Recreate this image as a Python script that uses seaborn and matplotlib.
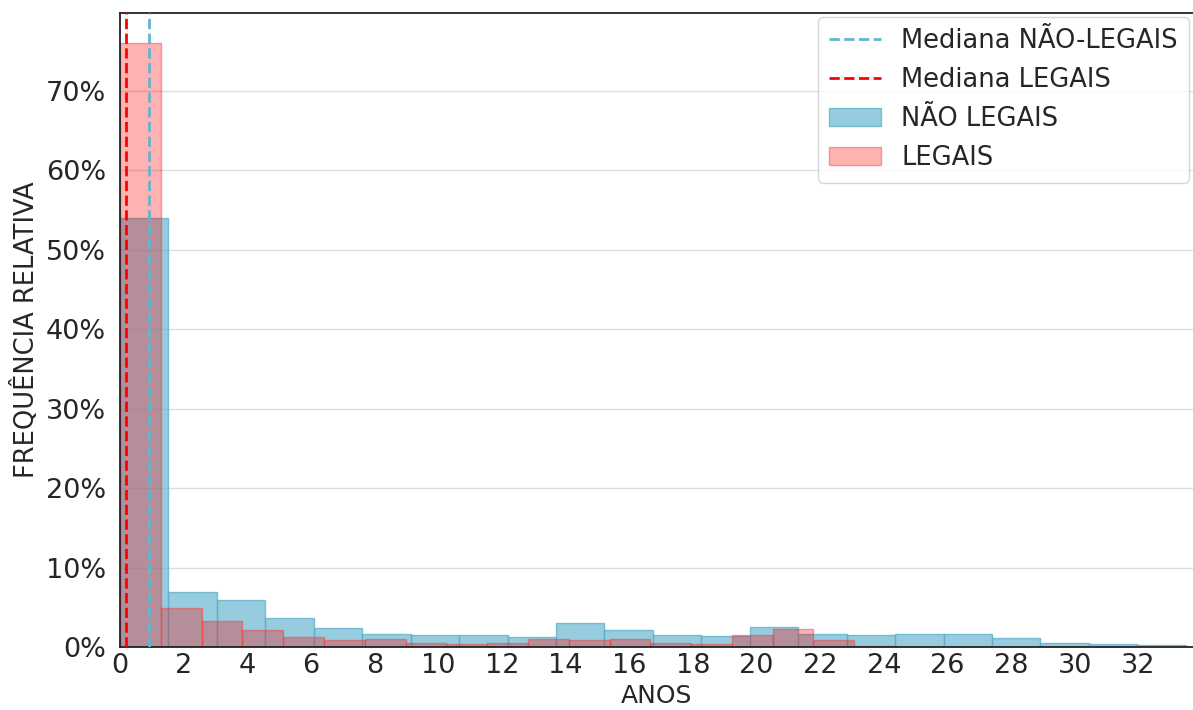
import numpy as np
import pandas as pd
import matplotlib
matplotlib.use("Agg")
import matplotlib.pyplot as plt
from matplotlib.ticker import PercentFormatter, MultipleLocator
import seaborn as sns

# Relative frequency per bin (fraction of each group), by years
nao_legais_width = 1.522
nao_legais_freq = [0.540, 0.0686, 0.0586, 0.0360, 0.0243, 0.0167, 0.0146, 0.0146,
                   0.0129, 0.0302, 0.0214, 0.0146, 0.0133, 0.0246, 0.0163, 0.0146,
                   0.0165, 0.0167, 0.0117, 0.0054, 0.0038, 0.0020]

legais_width = 1.2816
legais_freq = [0.760, 0.0490, 0.0327, 0.0214, 0.0129, 0.0088, 0.0100, 0.0050,
               0.0038, 0.0050, 0.0096, 0.0084, 0.0096, 0.0050, 0.0033, 0.0150,
               0.0230, 0.0088, 0.0013]

mediana_nao_legais = 0.90
mediana_legais = 0.19

sns.set_style("whitegrid")
plt.rcParams["font.family"] = ["DejaVu Sans"]

fig = plt.figure(figsize=(11.93, 7.10), dpi=100)
ax = fig.add_axes([120 / 1193, 63 / 710, 1073 / 1193, 634 / 710])

edges_nl = [i * nao_legais_width for i in range(len(nao_legais_freq) + 1)]
edges_l = [i * legais_width for i in range(len(legais_freq) + 1)]
df_nl = pd.DataFrame({"anos": [(a + b) / 2 for a, b in zip(edges_nl[:-1], edges_nl[1:])],
                      "freq": nao_legais_freq})
df_l = pd.DataFrame({"anos": [(a + b) / 2 for a, b in zip(edges_l[:-1], edges_l[1:])],
                     "freq": legais_freq})

blue = "#64B5CD"
ax.axvline(mediana_nao_legais, color=blue, ls="--", lw=2, zorder=4,
           label="Mediana NÃO-LEGAIS")
ax.axvline(mediana_legais, color="red", ls="--", lw=2, zorder=4,
           label="Mediana LEGAIS")

sns.histplot(data=df_nl, x="anos", weights="freq", bins=edges_nl, ax=ax,
             color=blue, alpha=0.68, edgecolor=(0.35, 0.68, 0.80, 0.75),
             linewidth=1, label="NÃO LEGAIS")
sns.histplot(data=df_l, x="anos", weights="freq", bins=edges_l, ax=ax,
             color="red", alpha=0.3, edgecolor=(1.0, 0.2, 0.2, 0.45),
             linewidth=1, label="LEGAIS")

ax.set_xlim(0, 1073 / 31.83)
ax.set_ylim(0, 0.798)
ax.xaxis.set_major_locator(MultipleLocator(2))
ax.yaxis.set_major_locator(MultipleLocator(0.1))
ax.yaxis.set_major_formatter(PercentFormatter(1, decimals=0))
ax.grid(axis="x", visible=False)
ax.grid(axis="y", color="#dddddd", lw=1)

for side in ["left", "bottom", "top"]:
    ax.spines[side].set_color("#222222")
    ax.spines[side].set_linewidth(1.3)
ax.spines["right"].set_visible(False)

ax.tick_params(axis="x", labelsize=19.5, colors="#262626", length=0, pad=4)
ax.tick_params(axis="y", labelsize=19.5, colors="#262626", length=0, pad=10)
ax.set_xlabel("ANOS", fontsize=18, color="#262626", labelpad=4)
ax.set_ylabel("FREQUÊNCIA RELATIVA", fontsize=18.5, color="#262626", labelpad=4)

handles, labels = ax.get_legend_handles_labels()
leg = ax.legend(handles, labels, loc="upper right", fontsize=18.5, frameon=True,
                fancybox=True, borderaxespad=0.15, handlelength=2.0,
                handletextpad=0.8, labelspacing=0.5, borderpad=0.45)
leg.get_frame().set_edgecolor("#cccccc")

fig.savefig("out.png", dpi=100)
